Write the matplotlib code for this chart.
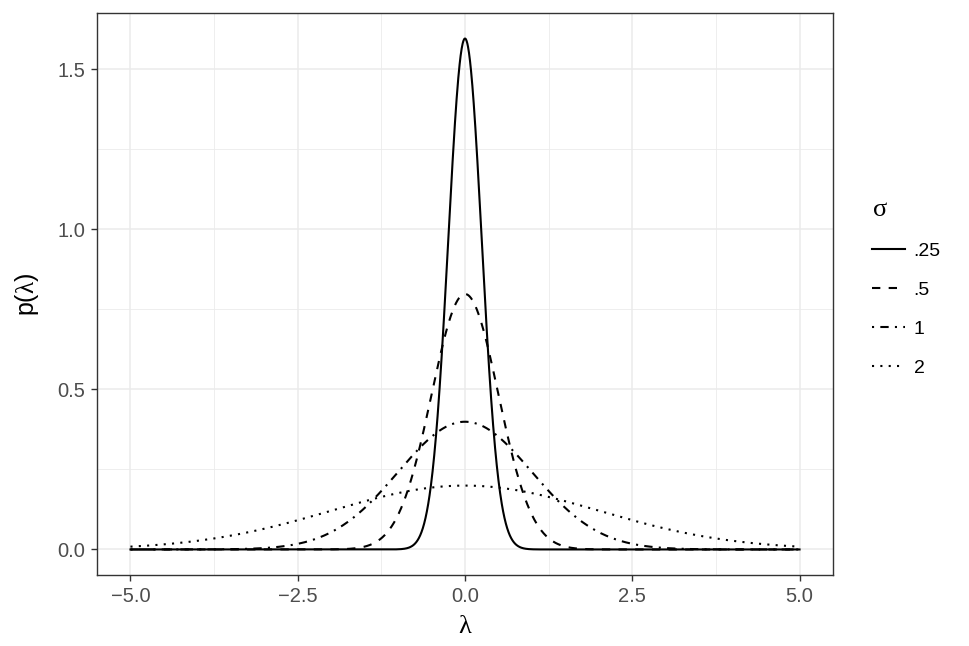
import numpy as np
import matplotlib
matplotlib.use("Agg")
import matplotlib.pyplot as plt
from matplotlib.lines import Line2D

plt.rcParams['font.family'] = ['Liberation Sans', 'DejaVu Sans']
plt.rcParams['mathtext.fontset'] = 'custom'
plt.rcParams['mathtext.rm'] = 'Liberation Serif'
plt.rcParams['mathtext.it'] = 'Liberation Serif'

# data
sigmas = [0.25, 0.5, 1.0, 2.0]
legend_labels = ['.25', '.5', '1', '2']
x_min, x_max = -5.0, 5.0
x_ticks = [-5.0, -2.5, 0.0, 2.5, 5.0]
x_ticklabels = ['\u22125.0', '\u22122.5', '0.0', '2.5', '5.0']
y_ticks = [0.0, 0.5, 1.0, 1.5]
y_ticklabels = ['0.0', '0.5', '1.0', '1.5']

dash_styles = ['solid', (0, (4, 4)), (0, (1, 3, 4, 3)), (0, (1, 3))]

W, H = 969, 646
fig = plt.figure(figsize=(W / 100, H / 100), dpi=100)
ax = fig.add_axes([97 / W, (H - 575) / H, (833 - 97) / W, (575 - 13) / H])

lam = np.linspace(x_min, x_max, 2001)
lw = 1.5
for s, ls in zip(sigmas, dash_styles):
    dens = np.exp(-lam ** 2 / (2 * s ** 2)) / (s * np.sqrt(2 * np.pi))
    ax.plot(lam, dens, color='black', lw=lw, linestyle=ls, dash_capstyle='butt')

ymax = 1 / (sigmas[0] * np.sqrt(2 * np.pi))
ax.set_xlim(x_min - 0.05 * (x_max - x_min), x_max + 0.05 * (x_max - x_min))
ax.set_ylim(-0.05 * ymax, ymax * 1.05)

ax.set_xticks(x_ticks)
ax.set_xticklabels(x_ticklabels)
ax.set_yticks(y_ticks)
ax.set_yticklabels(y_ticklabels)
ax.set_xticks([-3.75, -1.25, 1.25, 3.75], minor=True)
ax.set_yticks([0.25, 0.75, 1.25], minor=True)
ax.grid(which='major', color='#ebebeb', lw=1.1)
ax.grid(which='minor', color='#ebebeb', lw=0.6)
ax.set_axisbelow(True)
ax.tick_params(which='major', length=4, width=1.0, color='#333333',
               labelsize=14.5, labelcolor='#4d4d4d', pad=4.5)
ax.tick_params(which='minor', length=0)
for sp in ax.spines.values():
    sp.set_color('#333333')
    sp.set_linewidth(1.0)

ax.set_xlabel(r'$\mathrm{\lambda}$', fontsize=19, labelpad=6)
ax.set_ylabel(r'p($\mathrm{\lambda}$)', fontsize=18, labelpad=12)

handles = [Line2D([], [], color='black', lw=lw, linestyle=ls, dash_capstyle='butt')
           for ls in dash_styles]
leg = fig.legend(handles, legend_labels, title=r'$\mathrm{\sigma}$', loc='upper left',
                 bbox_to_anchor=(864 / W, 1 - 189 / H), frameon=False,
                 fontsize=14, title_fontsize=19, handlelength=1.7,
                 handletextpad=0.45, labelspacing=1.1, borderaxespad=0)
leg._legend_box.align = 'left'

fig.savefig('out.png', dpi=100)
